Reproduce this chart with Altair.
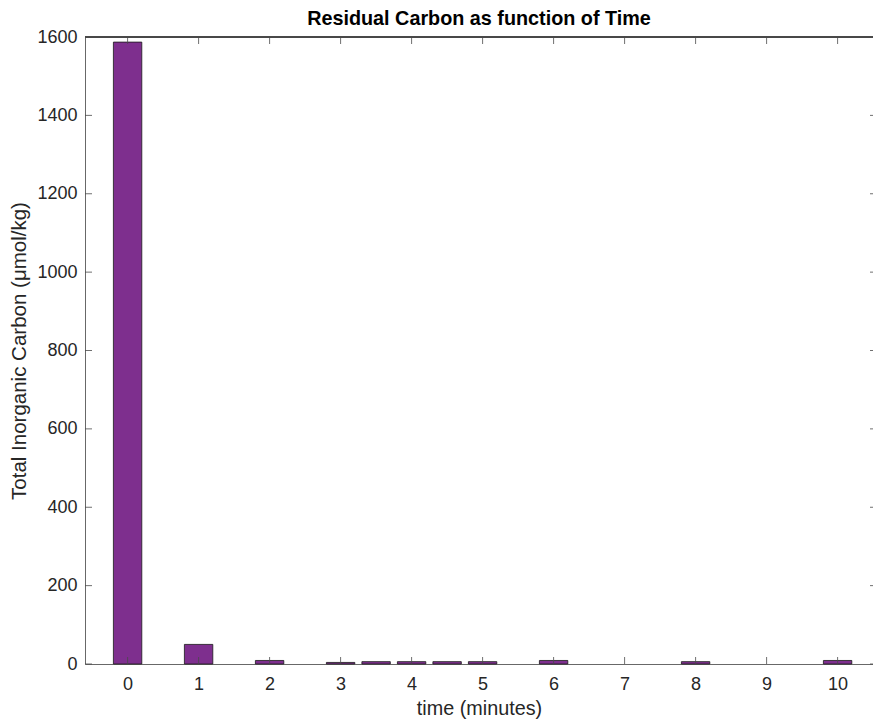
import altair as alt
import pandas as pd

# data
times = [0, 1, 2, 3, 3.5, 4, 4.5, 5, 6, 8, 10]
carbon = [1587, 50, 9, 4, 6, 6, 6, 6, 9, 6, 9]
x_ticks = list(range(0, 11))
y_ticks = [0, 200, 400, 600, 800, 1000, 1200, 1400, 1600]

W, H = 788, 627
XMIN, XMAX = -0.6, -0.6 + 788 / 71.0
HALF = 0.2
AX = "#262626"
LN = "#4a4a4a"
FONT = "Liberation Sans"

df = pd.DataFrame({"t": times, "c": carbon})
xs = alt.Scale(domain=[XMIN, XMAX], nice=False, zero=False)
ys = alt.Scale(domain=[0, 1600], nice=False)

bars = alt.Chart(df).transform_calculate(
    x0=f"datum.t - {HALF}", x1=f"datum.t + {HALF}"
).mark_bar(color="#7E2F8E", stroke="#1a1a1a", strokeWidth=0.8).encode(
    x=alt.X("x0:Q", scale=xs,
            axis=alt.Axis(values=x_ticks, format="d", title="time (minutes)", ticks=False,
                          grid=False, labelFontSize=18, titleFontSize=19.8,
                          labelFont=FONT, titleFont=FONT, labelColor=AX, titleColor=AX,
                          labelPadding=11, titlePadding=5, titleFontWeight="normal",
                          domainColor=LN, domainWidth=0.8, labelFlush=False)),
    x2="x1:Q",
    y=alt.Y("c:Q", scale=ys,
            axis=alt.Axis(values=y_ticks, format="d", title="Total Inorganic Carbon (μmol/kg)",
                          ticks=False, grid=False, labelFontSize=18, titleFontSize=20.5,
                          labelFont=FONT, titleFont=FONT, labelColor=AX, titleColor=AX,
                          labelPadding=8, titlePadding=7, titleFontWeight="normal",
                          domainColor=LN, domainWidth=0.8, labelFlush=False)),
    y2=alt.datum(0),
)

xt = pd.DataFrame({"v": x_ticks})
yt = pd.DataFrame({"v": y_ticks})

bottom_ticks = alt.Chart(xt).mark_rule(color=LN, strokeWidth=0.8).encode(
    x=alt.X("v:Q", scale=xs), y=alt.value(H), y2=alt.value(H - 7))
top_ticks = alt.Chart(xt).mark_rule(color=LN, strokeWidth=0.8).encode(
    x=alt.X("v:Q", scale=xs), y=alt.value(0), y2=alt.value(7))
left_ticks = alt.Chart(yt).mark_rule(color=LN, strokeWidth=0.8).encode(
    y=alt.Y("v:Q", scale=ys), x=alt.value(0), x2=alt.value(7))
right_ticks = alt.Chart(yt).mark_rule(color=LN, strokeWidth=0.8).encode(
    y=alt.Y("v:Q", scale=ys), x=alt.value(W - 3), x2=alt.value(W))
top_line = alt.Chart(xt).mark_rule(color=LN, strokeWidth=0.8).encode(
    x=alt.value(0), x2=alt.value(W), y=alt.value(0))

chart = alt.layer(bars, bottom_ticks, top_ticks, left_ticks, right_ticks, top_line).properties(
    width=W, height=H,
    title=alt.TitleParams("Residual Carbon as function of Time", fontSize=19.8,
                          font=FONT, fontWeight="bold", color="#000000",
                          anchor="middle", offset=-1),
    autosize=alt.AutoSizeParams(type="none"),
    padding={"left": 85, "top": 37, "right": 0, "bottom": 55},
).configure_view(stroke=None).configure(background="white")

chart.save("out.html", embed_options={"renderer": "svg", "actions": False})
